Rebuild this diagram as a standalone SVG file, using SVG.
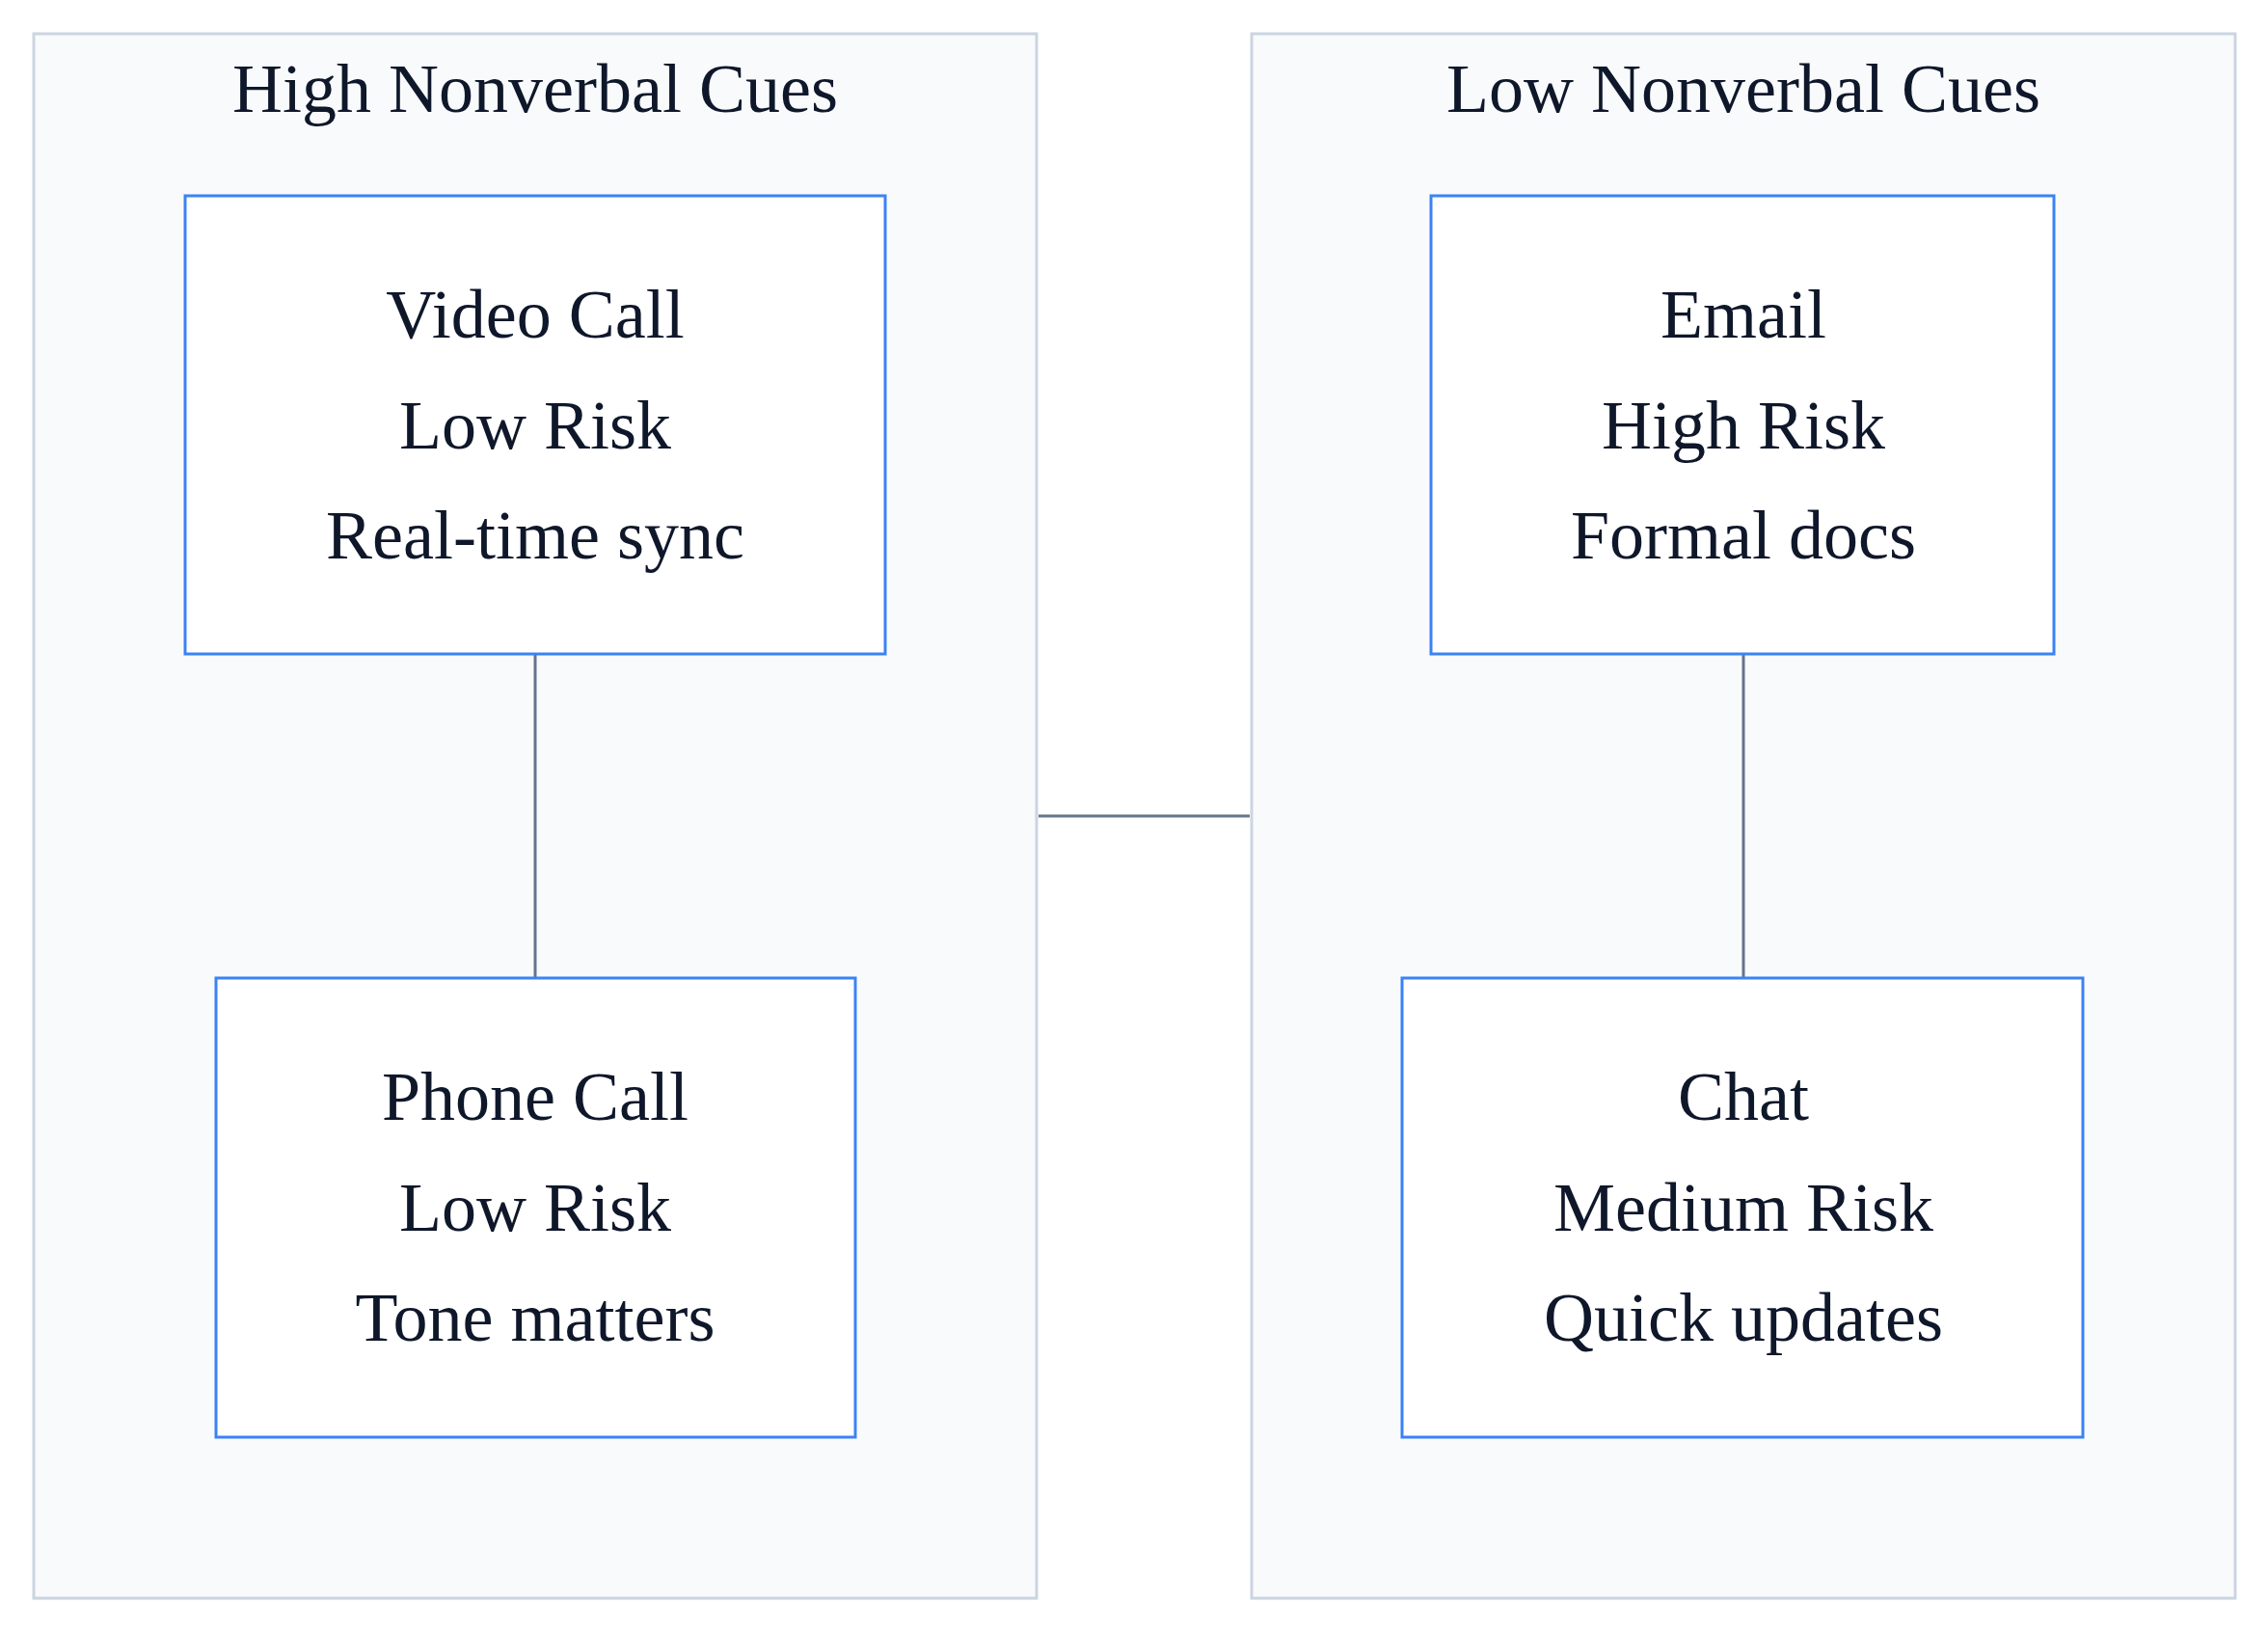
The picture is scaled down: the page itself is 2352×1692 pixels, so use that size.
<svg xmlns="http://www.w3.org/2000/svg" width="2352" height="1692" viewBox="0 0 2352 1692">
<style>
.cl{fill:#f8fafc;stroke:#cbd5e1;stroke-width:3}
.nd{fill:#ffffff;stroke:#3b82f6;stroke-width:3}
.t{font-family:"Liberation Serif",serif;font-size:72px;fill:#0f172a;text-anchor:middle}
.e{stroke:#64748b;stroke-width:3;fill:none}
</style>
<rect width="2352" height="1692" fill="#ffffff"/>
<g id="cluster-high"><rect class="cl" x="35" y="35" width="1040" height="1622"/><text class="t" x="555" y="116">High Nonverbal Cues</text></g>
<g id="cluster-low"><rect class="cl" x="1298" y="35" width="1020" height="1622"/><text class="t" x="1808" y="116">Low Nonverbal Cues</text></g>
<g id="connectors">
<line class="e" x1="555" y1="678" x2="555" y2="1014"/>
<line class="e" x1="1808" y1="678" x2="1808" y2="1014"/>
<line class="e" x1="1077" y1="846" x2="1296" y2="846"/>
</g>
<g id="video"><rect class="nd" x="192" y="203" width="726" height="475"/><text class="t" x="555" y="350">Video Call</text><text class="t" x="555" y="465">Low Risk</text><text class="t" x="555" y="579">Real-time sync</text></g>
<g id="phone"><rect class="nd" x="224" y="1014" width="663" height="476"/><text class="t" x="555" y="1161">Phone Call</text><text class="t" x="555" y="1276">Low Risk</text><text class="t" x="555" y="1390">Tone matters</text></g>
<g id="email"><rect class="nd" x="1484" y="203" width="646" height="475"/><text class="t" x="1808" y="350">Email</text><text class="t" x="1808" y="465">High Risk</text><text class="t" x="1808" y="579">Formal docs</text></g>
<g id="chat"><rect class="nd" x="1454" y="1014" width="706" height="476"/><text class="t" x="1808" y="1161">Chat</text><text class="t" x="1808" y="1276">Medium Risk</text><text class="t" x="1808" y="1390">Quick updates</text></g>
</svg>
